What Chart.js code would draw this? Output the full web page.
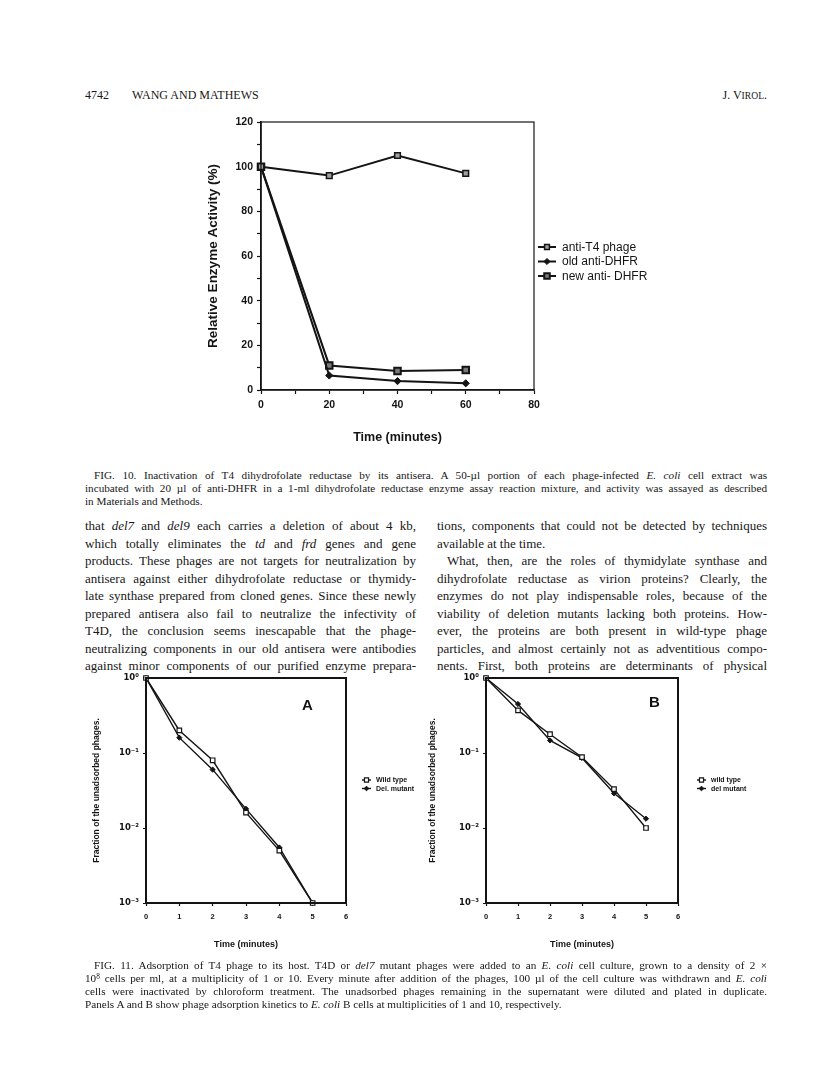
<!DOCTYPE html>
<html>
<head>
<meta charset="utf-8">
<script src="https://cdn.jsdelivr.net/npm/chart.js@4.4.1/dist/chart.umd.min.js"></script>
<style>
  body { margin: 0; background: #fff; width: 816px; height: 1070px; position: relative; overflow: hidden;
         font-family: "Liberation Serif", "DejaVu Serif", serif; color: #171717; }
  .abs { position: absolute; }
  .ln { white-space: nowrap; text-align: justify; text-align-last: justify; }
  .ln.end { text-align-last: left; }
  .cap { font-size: 11.2px; line-height: 13px; }
  .body { font-size: 13px; line-height: 17.5px; }
  sup { font-size: 0.65em; line-height: 0; vertical-align: 0.45em; }
  canvas { position: absolute; }
  .panel { position: absolute; font-family: "Liberation Sans", Arial, sans-serif; font-weight: bold; font-size: 15px; color: #111; }
</style>
</head>
<body>

<!-- running head -->
<div class="abs" style="left:85px; top:88px; font-size:12px; line-height:14px;">4742</div>
<div class="abs" style="left:132px; top:88px; font-size:12px; line-height:14px;">WANG AND MATHEWS</div>
<div class="abs" style="right:49px; top:88px; font-size:12px; line-height:14px;">J. V<span style="font-size:0.8em">IROL</span>.</div>

<canvas id="fig10" width="470" height="345" style="left:190px; top:110px;"></canvas>

<div class="abs cap" style="left:85px; top:469px; width:682px;">
  <div class="ln" style="padding-left:9px;">FIG. 10. Inactivation of T4 dihydrofolate reductase by its antisera. A 50-µl portion of each phage-infected <i>E. coli</i> cell extract was</div>
  <div class="ln">incubated with 20 µl of anti-DHFR in a 1-ml dihydrofolate reductase enzyme assay reaction mixture, and activity was assayed as described</div>
  <div class="ln end">in Materials and Methods.</div>
</div>

<div class="abs body" style="left:85px; top:517px; width:331px;">
  <div class="ln">that <i>del7</i> and <i>del9</i> each carries a deletion of about 4 kb,</div>
  <div class="ln">which totally eliminates the <i>td</i> and <i>frd</i> genes and gene</div>
  <div class="ln">products. These phages are not targets for neutralization by</div>
  <div class="ln">antisera against either dihydrofolate reductase or thymidy-</div>
  <div class="ln">late synthase prepared from cloned genes. Since these newly</div>
  <div class="ln">prepared antisera also fail to neutralize the infectivity of</div>
  <div class="ln">T4D, the conclusion seems inescapable that the phage-</div>
  <div class="ln">neutralizing components in our old antisera were antibodies</div>
  <div class="ln">against minor components of our purified enzyme prepara-</div>
</div>

<div class="abs body" style="left:437px; top:517px; width:330px;">
  <div class="ln">tions, components that could not be detected by techniques</div>
  <div class="ln end">available at the time.</div>
  <div class="ln" style="padding-left:10px;">What, then, are the roles of thymidylate synthase and</div>
  <div class="ln">dihydrofolate reductase as virion proteins? Clearly, the</div>
  <div class="ln">enzymes do not play indispensable roles, because of the</div>
  <div class="ln">viability of deletion mutants lacking both proteins. How-</div>
  <div class="ln">ever, the proteins are both present in wild-type phage</div>
  <div class="ln">particles, and almost certainly not as adventitious compo-</div>
  <div class="ln">nents. First, both proteins are determinants of physical</div>
</div>

<canvas id="fig11a" width="335" height="295" style="left:85px; top:665px;"></canvas>
<canvas id="fig11b" width="360" height="295" style="left:420px; top:665px;"></canvas>
<div class="panel" style="left:302px; top:696px;">A</div>
<div class="panel" style="left:649px; top:693px;">B</div>

<div class="abs cap" style="left:85px; top:959px; width:682px;">
  <div class="ln" style="padding-left:9px;">FIG. 11. Adsorption of T4 phage to its host. T4D or <i>del7</i> mutant phages were added to an <i>E. coli</i> cell culture, grown to a density of 2 ×</div>
  <div class="ln">10<sup>8</sup> cells per ml, at a multiplicity of 1 or 10. Every minute after addition of the phages, 100 µl of the cell culture was withdrawn and <i>E. coli</i></div>
  <div class="ln">cells were inactivated by chloroform treatment. The unadsorbed phages remaining in the supernatant were diluted and plated in duplicate.</div>
  <div class="ln end">Panels A and B show phage adsorption kinetics to <i>E. coli</i> B cells at multiplicities of 1 and 10, respectively.</div>
</div>

<script>
// Fig. 10 - 酶活性随时间变化
const timeMin = [0, 20, 40, 60];
const antiT4 = [100, 96, 105, 97];
const oldDHFR = [100, 6.5, 4, 3];
const newDHFR = [100, 11, 8.5, 9];
const fig10Labels = ['anti-T4 phage', 'old anti-DHFR', 'new anti- DHFR'];

// Fig. 11 - 吸附动力学 (对数坐标)
const timeAds = [0, 1, 2, 3, 4, 5];
const wildA = [1, 0.2, 0.08, 0.016, 0.005, 0.001];
const delA = [1, 0.16, 0.06, 0.018, 0.0055, 0.001];
const wildB = [1, 0.37, 0.178, 0.088, 0.033, 0.01];
const delB = [1, 0.45, 0.147, 0.086, 0.029, 0.0133];
const labelsA = ['Wild type', 'Del. mutant'];
const labelsB = ['wild type', 'del mutant'];
const decades = [0.001, 0.01, 0.1, 1];
const decadeLabels = ['10\u207B\u00B3', '10\u207B\u00B2', '10\u207B\u00B9', '10\u2070'];

const INK = '#141414';
const SANS = '"Liberation Sans", Arial, sans-serif';

function pts(xs, ys) {
  return xs.map((x, i) => ({ x: x, y: ys[i] }));
}

// 外框
const framePlugin = {
  id: 'frame',
  afterDraw(chart, args, opts) {
    const a = chart.chartArea, ctx = chart.ctx;
    ctx.save();
    ctx.strokeStyle = INK;
    ctx.lineWidth = opts.width || 1;
    ctx.strokeRect(a.left, a.top, a.right - a.left, a.bottom - a.top);
    ctx.restore();
  }
};

// 图例: 线段 + 标记 + 文字
const sideLegend = {
  id: 'sideLegend',
  afterDraw(chart, args, opts) {
    const a = chart.chartArea, ctx = chart.ctx;
    ctx.save();
    chart.data.datasets.forEach((ds, i) => {
      const x = a.right + opts.dx;
      const y = opts.y + i * opts.gap;
      ctx.strokeStyle = ds.borderColor;
      ctx.lineWidth = ds.borderWidth;
      ctx.beginPath();
      ctx.moveTo(x, y);
      ctx.lineTo(x + opts.len, y);
      ctx.stroke();
      ctx.fillStyle = ds.pointBackgroundColor;
      ctx.strokeStyle = ds.pointBorderColor;
      ctx.lineWidth = ds.pointBorderWidth;
      Chart.helpers.drawPoint(ctx, { pointStyle: ds.pointStyle, radius: ds.pointRadius * opts.scale,
        borderWidth: ds.pointBorderWidth, rotation: 0 }, x + opts.len / 2, y);
      ctx.fillStyle = INK;
      ctx.font = opts.font;
      ctx.textBaseline = 'middle';
      ctx.fillText(ds.label, x + opts.len + opts.textGap, y + 0.5);
    });
    ctx.restore();
  }
};

Chart.register(framePlugin, sideLegend);

function line(label, data, style) {
  return Object.assign({
    label: label, data: data, borderColor: INK, pointBorderColor: INK,
    showLine: true, tension: 0, clip: false
  }, style);
}

new Chart(document.getElementById('fig10'), {
  type: 'scatter',
  data: {
    datasets: [
      line(fig10Labels[0], pts(timeMin, antiT4), { borderWidth: 2, pointStyle: 'rect', pointRadius: 4,
        pointBackgroundColor: '#a0a0a0', pointBorderWidth: 1.5 }),
      line(fig10Labels[1], pts(timeMin, oldDHFR), { borderWidth: 2, pointStyle: 'rectRot', pointRadius: 3.6,
        pointBackgroundColor: INK, pointBorderWidth: 1 }),
      line(fig10Labels[2], pts(timeMin, newDHFR), { borderWidth: 2, pointStyle: 'rect', pointRadius: 4.6,
        pointBackgroundColor: '#7a7a7a', pointBorderWidth: 2 })
    ]
  },
  options: {
    responsive: false, animation: false, devicePixelRatio: 1,
    layout: { padding: { top: 12, right: 126, bottom: 5, left: 0 } },
    plugins: {
      legend: { display: false }, tooltip: { enabled: false },
      frame: { width: 1.2 },
      sideLegend: { dx: 4, y: 137, gap: 14.5, len: 18, textGap: 6, scale: 0.85, font: '12px ' + SANS }
    },
    scales: {
      x: {
        type: 'linear', min: 0, max: 80,
        afterFit(s) { s.height = 60; },
        ticks: { stepSize: 10, autoSkip: false, maxRotation: 0, padding: 4.5, color: INK,
          font: { family: SANS, size: 10.5, weight: 'bold' },
          callback: v => (v % 20 === 0 ? v : '') },
        grid: { drawOnChartArea: false, tickLength: 4, color: INK, tickWidth: 1.2 },
        border: { color: INK, width: 1.6 },
        title: { display: true, text: 'Time (minutes)', color: INK,
          font: { family: SANS, size: 12.5, weight: 'bold' }, padding: { top: 0, bottom: 4.5 } }
      },
      y: {
        min: 0, max: 120,
        afterFit(s) { s.width = 71; },
        ticks: { stepSize: 10, autoSkip: false, padding: 4, color: INK,
          font: { family: SANS, size: 10.5, weight: 'bold' },
          callback: v => (v % 20 === 0 ? v : '') },
        grid: { drawOnChartArea: false, tickLength: 4, color: INK, tickWidth: 1.2 },
        border: { color: INK, width: 1.6 },
        title: { display: true, text: 'Relative Enzyme Activity (%)', color: INK,
          font: { family: SANS, size: 13.5, weight: 'bold' }, padding: { top: 14.9, bottom: 0 } }
      }
    }
  }
});

function adsChart(id, wild, del, labels, yAxisWidth, padRight, titlePad, legendDx) {
  return new Chart(document.getElementById(id), {
    type: 'scatter',
    data: {
      datasets: [
        line(labels[0], pts(timeAds, wild), { borderWidth: 1.4, pointStyle: 'rect', pointRadius: 3.2,
          pointBackgroundColor: '#ffffff', pointBorderWidth: 1.2 }),
        line(labels[1], pts(timeAds, del), { borderWidth: 1.4, pointStyle: 'rectRot', pointRadius: 2.6,
          pointBackgroundColor: INK, pointBorderWidth: 1 })
      ]
    },
    options: {
      responsive: false, animation: false, devicePixelRatio: 1,
      layout: { padding: { top: 13, right: padRight, bottom: 5, left: 0 } },
      plugins: {
        legend: { display: false }, tooltip: { enabled: false },
        frame: { width: 2 },
        sideLegend: { dx: legendDx, y: 115, gap: 8.5, len: 9, textGap: 5, scale: 0.9,
          font: 'bold 7px ' + SANS }
      },
      scales: {
        x: {
          type: 'linear', min: 0, max: 6,
          afterFit(s) { s.height = 52; },
          ticks: { stepSize: 1, autoSkip: false, maxRotation: 0, padding: 6, color: INK,
            font: { family: SANS, size: 7.5, weight: 'bold' } },
          grid: { drawOnChartArea: false, tickLength: 3, color: INK, tickWidth: 1.2 },
          border: { color: INK, width: 2 },
          title: { display: true, text: 'Time (minutes)', color: INK,
            font: { family: SANS, size: 9, weight: 'bold' }, padding: { top: 0, bottom: 4.6 } }
        },
        y: {
          type: 'logarithmic', min: 0.001, max: 1,
          afterFit(s) { s.width = yAxisWidth; },
          afterBuildTicks(s) { s.ticks = decades.map(v => ({ value: v })); },
          ticks: { autoSkip: false, padding: 4, color: INK,
            font: { family: 'DejaVu Sans', size: 8.5, weight: 'bold' },
            callback: v => decadeLabels[decades.indexOf(v)] },
          grid: { drawOnChartArea: false, tickLength: 3, color: INK, tickWidth: 1.2 },
          border: { color: INK, width: 2 },
          title: { display: true, text: 'Fraction of the unadsorbed phages.', color: INK,
            font: { family: SANS, size: 8.5, weight: 'bold' }, padding: { top: titlePad, bottom: 0 } }
        }
      }
    }
  });
}

adsChart('fig11a', wildA, delA, labelsA, 61, 74, 7, 16);
adsChart('fig11b', wildB, delB, labelsB, 66, 102, 8, 19);
</script>
</body>
</html>
